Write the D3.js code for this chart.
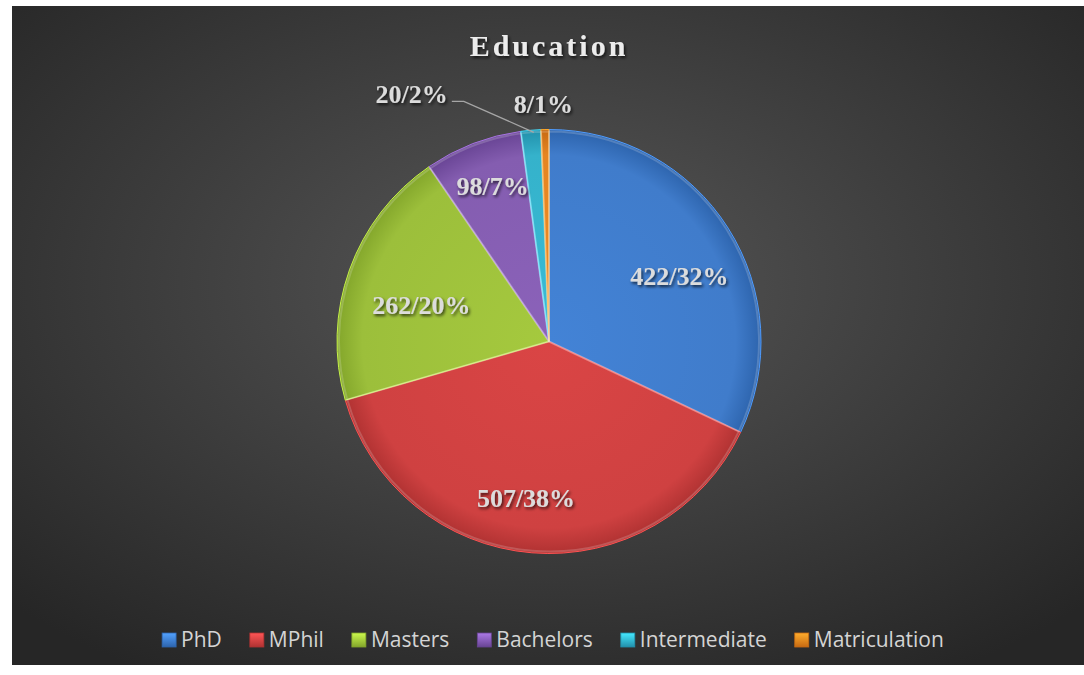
<!DOCTYPE html>
<html>
<head>
<meta charset="utf-8">
<title>Education</title>
<script src="https://d3js.org/d3.v7.min.js"></script>
<style>
  body { margin: 0; background: #fff; }
</style>
</head>
<body>
<div id="chart"></div>
<script>
// data
const categories = ["PhD", "MPhil", "Masters", "Bachelors", "Intermediate", "Matriculation"];
const counts = [422, 507, 262, 98, 20, 8];
const percentLabels = ["32%", "38%", "20%", "7%", "2%", "1%"];
const colors = ["#4383d6", "#da4545", "#a5c93e", "#8b62ba", "#38bcd6", "#f28c24"];
const darkColors = ["#2d64ad", "#b03232", "#83a62b", "#684494", "#2290ab", "#c76a12"];

const width = 1084, height = 675;
const cx = 549, cy = 341.5, R = 212;

// label nudges (pixels) relative to the arc centroid, to follow the original placement
const labelNudge = [[5, 14], [-11, 8], [12, 14], [-3, -17], [0, 0], [3, 4]];

const svg = d3.select("#chart").append("svg")
  .attr("width", width).attr("height", height);

const defs = svg.append("defs");

const bg = defs.append("radialGradient").attr("id", "bg")
  .attr("cx", "50%").attr("cy", "42%").attr("r", "70%");
bg.append("stop").attr("offset", "0%").attr("stop-color", "#575757");
bg.append("stop").attr("offset", "100%").attr("stop-color", "#262626");

categories.forEach((c, i) => {
  const g = defs.append("radialGradient").attr("id", "slice" + i)
    .attr("gradientUnits", "userSpaceOnUse")
    .attr("cx", 0).attr("cy", 0).attr("r", R);
  g.append("stop").attr("offset", "0%").attr("stop-color", colors[i]);
  g.append("stop").attr("offset", "88%").attr("stop-color", d3.color(colors[i]).darker(0.15));
  g.append("stop").attr("offset", "100%").attr("stop-color", darkColors[i]);

  const m = defs.append("linearGradient").attr("id", "mark" + i)
    .attr("x1", 0).attr("y1", 0).attr("x2", 0).attr("y2", 1);
  m.append("stop").attr("offset", "0%").attr("stop-color", d3.color(colors[i]).brighter(0.6));
  m.append("stop").attr("offset", "100%").attr("stop-color", darkColors[i]);
});

const shadow = defs.append("filter").attr("id", "tshadow")
  .attr("x", "-10%").attr("y", "-20%").attr("width", "130%").attr("height", "160%");
shadow.append("feDropShadow").attr("dx", 1.5).attr("dy", 2).attr("stdDeviation", 1.5)
  .attr("flood-color", "#000").attr("flood-opacity", 0.7);

svg.append("rect")
  .attr("x", 12).attr("y", 6).attr("width", width - 12).attr("height", 659)
  .attr("fill", "url(#bg)");

svg.append("text")
  .attr("x", cx).attr("y", 56)
  .attr("text-anchor", "middle")
  .attr("font-family", "'Liberation Serif', 'Times New Roman', serif")
  .attr("font-weight", "bold")
  .attr("font-size", 30)
  .attr("letter-spacing", 3)
  .attr("fill", "#ececec")
  .attr("filter", "url(#tshadow)")
  .text("Education");

const pie = d3.pie().sort(null).value(d => d);
const arcs = pie(counts);
const arc = d3.arc().innerRadius(0).outerRadius(R);
const innerArc = d3.arc().innerRadius(0).outerRadius(R - 2);

const g = svg.append("g").attr("transform", `translate(${cx},${cy})`);

g.selectAll("path.slice")
  .data(arcs)
  .enter().append("path")
  .attr("class", "slice")
  .attr("d", arc)
  .attr("fill", (d, i) => `url(#slice${i})`)
  .attr("stroke", (d, i) => d3.color(colors[i]).brighter(0.5))
  .attr("stroke-width", 1)
  .attr("stroke-linejoin", "round");

// subtle bevel highlight along each slice edge
g.selectAll("path.bevel")
  .data(arcs)
  .enter().append("path")
  .attr("class", "bevel")
  .attr("d", innerArc)
  .attr("fill", "none")
  .attr("stroke", "#ffffff")
  .attr("stroke-opacity", 0.18)
  .attr("stroke-width", 2);

const labelArc = d3.arc().innerRadius(R * 0.7).outerRadius(R * 0.7);
const labelFont = "'Liberation Serif', 'Times New Roman', serif";

arcs.forEach((d, i) => {
  const text = counts[i] + "/" + percentLabels[i];
  const share = (d.endAngle - d.startAngle) / (2 * Math.PI);
  let x, y, anchor = "middle";
  if (share > 0.05) {
    [x, y] = labelArc.centroid(d);
    x += labelNudge[i][0];
    y += labelNudge[i][1];
  } else if (i === categories.length - 1) {
    const a = (d.startAngle + d.endAngle) / 2;
    x = Math.sin(a) * (R + 30) - 4 + labelNudge[i][0];
    y = -Math.cos(a) * (R + 30) + labelNudge[i][1];
  } else {
    // outside label with leader line
    const a = (d.startAngle + d.endAngle) / 2;
    const px = Math.sin(a) * R + 3, py = -Math.cos(a) * R + 2;
    const ex = px - 70, ey = py - 31;
    g.append("polyline")
      .attr("points", [[px, py], [ex, ey], [ex - 12, ey]].map(p => p.join(",")).join(" "))
      .attr("fill", "none").attr("stroke", "#a6a6a6").attr("stroke-width", 1.3);
    x = ex - 16; y = ey - 7;
    anchor = "end";
  }
  g.append("text")
    .attr("x", x).attr("y", y)
    .attr("dy", "0.35em")
    .attr("text-anchor", anchor)
    .attr("font-family", labelFont)
    .attr("font-weight", "bold")
    .attr("font-size", 26)
    .attr("fill", "#dcdcdc")
    .attr("filter", "url(#tshadow)")
    .text(text);
});

// legend
const legend = svg.append("g");
const items = legend.selectAll("g.item").data(categories).enter().append("g").attr("class", "item");
items.append("rect")
  .attr("width", 14).attr("height", 14).attr("y", -14)
  .attr("fill", (d, i) => `url(#mark${i})`)
  .attr("stroke", (d, i) => darkColors[i]).attr("stroke-width", 0.8);
items.append("text")
  .attr("x", 19).attr("y", 0)
  .attr("font-family", "'Open Sans', 'Noto Sans', sans-serif")
  .attr("font-size", 21)
  .attr("fill", "#d4d4d4")
  .text(d => d);

let offset = 0;
const gap = 28;
items.each(function() {
  const w = this.getBBox().width;
  d3.select(this).attr("transform", `translate(${offset},0)`);
  offset += w + gap;
});
const total = offset - gap;
legend.attr("transform", `translate(${cx - total / 2 + 4},${647})`);
</script>
</body>
</html>
